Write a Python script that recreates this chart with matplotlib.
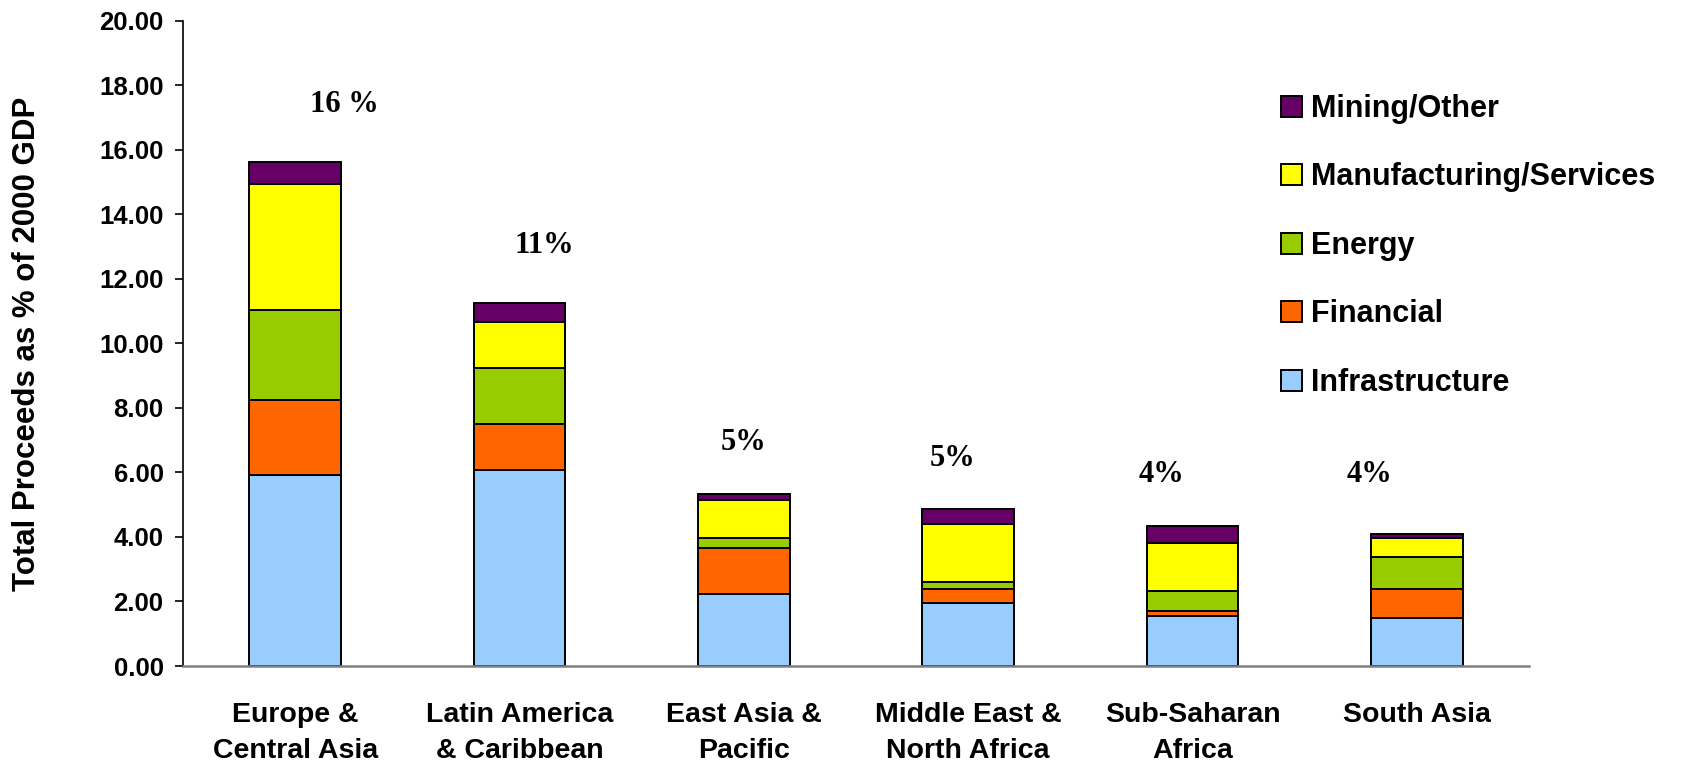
import matplotlib
matplotlib.use("Agg")
import matplotlib.pyplot as plt
from matplotlib.patches import Patch
import numpy as np

categories = ["Europe &\nCentral Asia", "Latin America\n& Caribbean", "East Asia &\nPacific",
              "Middle East &\nNorth Africa", "Sub-Saharan\nAfrica", "South Asia"]
infrastructure = [5.92, 6.08, 2.24, 1.94, 1.54, 1.49]
financial      = [2.32, 1.42, 1.41, 0.44, 0.18, 0.89]
energy         = [2.80, 1.74, 0.31, 0.22, 0.59, 1.00]
manufacturing  = [3.89, 1.41, 1.18, 1.79, 1.50, 0.58]
mining         = [0.69, 0.61, 0.19, 0.48, 0.53, 0.14]
series_names = ["Infrastructure", "Financial", "Energy", "Manufacturing/Services", "Mining/Other"]
pct_labels = ["16 %", "11%", "5%", "5%", "4%", "4%"]
pct_label_x = [0.22, 1.11, 2.0, 2.93, 3.86, 4.79]
pct_label_y = [17.17, 12.80, 6.70, 6.20, 5.70, 5.70]
yticks = [0, 2, 4, 6, 8, 10, 12, 14, 16, 18, 20]

colors = ["#99CCFF", "#FF6600", "#99CC00", "#FFFF00", "#660066"]

W, H = 1687, 761
fig = plt.figure(figsize=(W / 100, H / 100), dpi=100)
ax = fig.add_axes([183 / W, 1 - 666 / H, (1529 - 183) / W, (666 - 20.7) / H])

x = np.arange(len(categories))
bottom = np.zeros(len(categories))
handles = []
for vals, name, col in zip([infrastructure, financial, energy, manufacturing, mining], series_names, colors):
    ax.bar(x, vals, width=0.41, bottom=bottom, color=col, edgecolor="black", linewidth=1.4, zorder=3)
    bottom += np.array(vals)
    handles.append(Patch(facecolor=col, edgecolor="black", linewidth=1.4, label=name))

ax.set_xlim(-0.5, len(categories) - 0.5)
ax.set_ylim(0, 20)
ax.set_yticks(yticks)
ax.set_yticklabels([f"{v:.2f}" for v in yticks], fontfamily="Liberation Sans", fontweight="bold", fontsize=18.5)
ax.set_xticks(x)
ax.set_xticklabels(categories, fontfamily="Liberation Sans", fontweight="bold", fontsize=20.5, linespacing=1.5)
ax.tick_params(axis="x", length=0, pad=26)
ax.tick_params(axis="y", length=6, width=1.2, pad=8, direction="out")

for s in ["top", "right"]:
    ax.spines[s].set_visible(False)
ax.spines["left"].set_color("#000000")
ax.spines["left"].set_linewidth(1.2)
ax.spines["bottom"].set_color("#808080")
ax.spines["bottom"].set_linewidth(1.8)
ax.spines["bottom"].set_zorder(4)

fig.text(27 / W, 1 - 344 / H, "Total Proceeds as % of 2000 GDP", rotation=90, ha="center", va="center",
         fontfamily="Liberation Sans", fontweight="bold", fontsize=22.5)

for xl, yl, t in zip(pct_label_x, pct_label_y, pct_labels):
    ax.text(xl, yl, t, ha="center", va="baseline", fontfamily="Liberation Serif",
            fontweight="bold", fontsize=22)

leg = fig.legend(handles[::-1], [h.get_label() for h in handles[::-1]], loc="center left",
                 bbox_to_anchor=(1281 / W, 1 - 246 / H), frameon=False, borderpad=0, borderaxespad=0,
                 handlelength=0.68, handleheight=0.68, handletextpad=0.3, labelspacing=1.26,
                 prop={"family": "Liberation Sans", "weight": "bold", "size": 22})

fig.savefig("out.png", dpi=100)
